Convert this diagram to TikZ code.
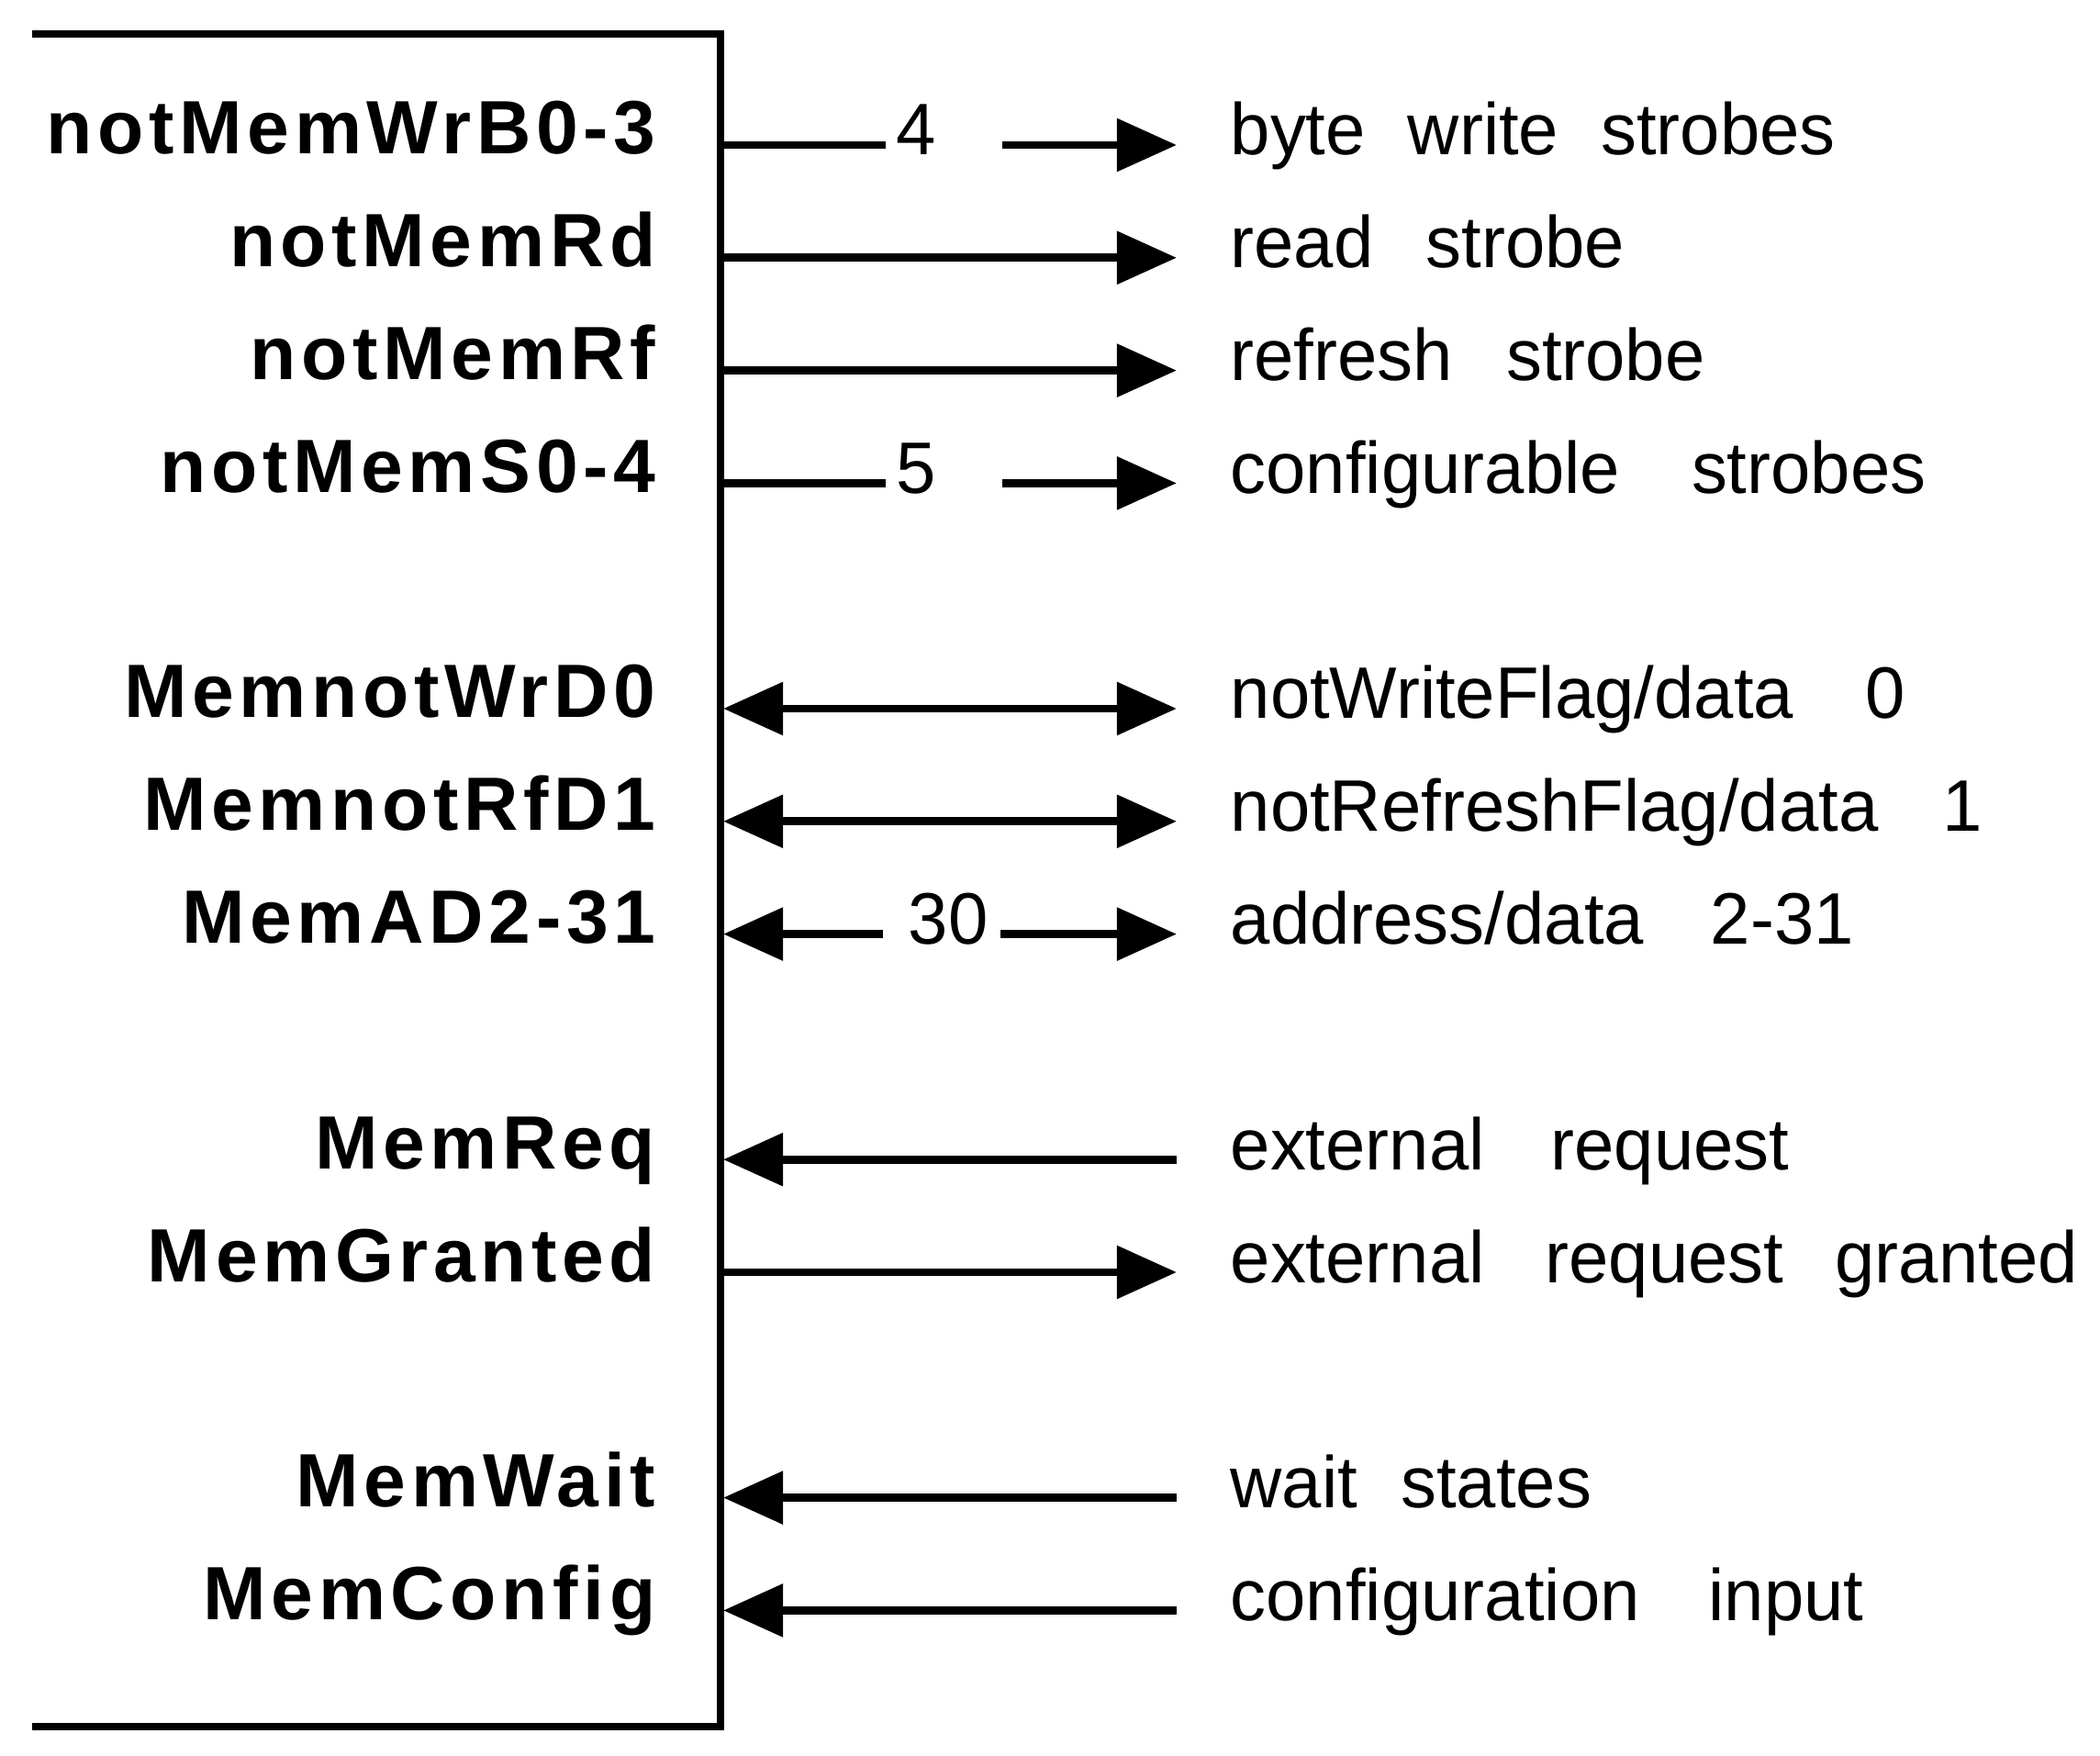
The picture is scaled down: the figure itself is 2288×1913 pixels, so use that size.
\documentclass[tikz,border=0pt]{standalone}
\usepackage{fontspec}
\usetikzlibrary{arrows.meta}
\newfontfamily\siglabfam{Liberation Sans}[LetterSpace=6.8]
\newfontfamily\desclabfam{Liberation Sans}[FakeStretch=0.98]
\begin{document}
\begin{tikzpicture}[x=0.01cm,y=-0.01cm,
  sig/.style={font={\siglabfam\bfseries\fontsize{23.4pt}{28pt}\selectfont}, anchor=base east, inner sep=0pt},
  desc/.style={font={\desclabfam\fontsize{22.6pt}{27pt}\selectfont}, anchor=base west, inner sep=0pt},
  num/.style={font={\desclabfam\fontsize{22.6pt}{27pt}\selectfont}, anchor=base, inner sep=0pt},
  boxline/.style={line width=2.3pt, line cap=butt, line join=miter},
  wire/.style={line width=2.55pt, line cap=butt},
  outarr/.style={wire, -{Triangle[length=6.5mm,width=5.6mm]}},
  inarr/.style={wire, -{Triangle[length=6.5mm,width=5.6mm]}},
  bidarr/.style={wire, {Triangle[length=6.5mm,width=5.6mm]}-{Triangle[length=6.5mm,width=5.6mm]}}
]
\useasboundingbox (0,0) rectangle (2288,1913);
% block outline (open on the left)
\coordinate (tl) at (35,37);
\coordinate (tr) at (785,37);
\coordinate (br) at (785,1881);
\coordinate (bl) at (35,1881);
\draw[boxline] (tl) -- (tr) -- (br) -- (bl);

% signal names
\node[sig] (s1)  at (715,168)    {notMemWrB0-3};
\node[sig] (s2)  at (715,290.8)  {notMemRd};
\node[sig] (s3)  at (715,413.6)  {notMemRf};
\node[sig] (s4)  at (715,536.4)  {notMemS0-4};
\node[sig] (s5)  at (715,782)    {MemnotWrD0};
\node[sig] (s6)  at (715,904.8)  {MemnotRfD1};
\node[sig] (s7)  at (715,1027.6) {MemAD2-31};
\node[sig] (s8)  at (715,1273.2) {MemReq};
\node[sig] (s9)  at (715,1396)   {MemGranted};
\node[sig] (s10) at (715,1641.6) {MemWait};
\node[sig] (s11) at (715,1764.4) {MemConfig};

% descriptions
\node[desc] (d1)  at (1340,169)    {byte\hspace{0.46cm}write\hspace{0.46cm}strobes};
\node[desc] (d2)  at (1340,291.8)  {read\hspace{0.57cm}strobe};
\node[desc] (d3)  at (1340,414.6)  {refresh\hspace{0.58cm}strobe};
\node[desc] (d4)  at (1340,537.4)  {configurable\hspace{0.78cm}strobes};
\node[desc] (d5)  at (1340,783)    {notWriteFlag/data\hspace{0.78cm}0};
\node[desc] (d6)  at (1340,905.8)  {notRefreshFlag/data\hspace{0.7cm}1};
\node[desc] (d7)  at (1340,1028.6) {address/data\hspace{0.73cm}2-31};
\node[desc] (d8)  at (1340,1274.2) {external\hspace{0.72cm}request};
\node[desc] (d9)  at (1340,1397)   {external\hspace{0.66cm}request\hspace{0.56cm}granted};
\node[desc] (d10) at (1340,1642.6) {wait\hspace{0.47cm}states};
\node[desc] (d11) at (1340,1765.4) {configuration\hspace{0.75cm}input};

% bus widths
\node[num] (n1) at (998,169)    {4};
\node[num] (n4) at (998,537.4)  {5};
\node[num] (n7) at (1033,1028.6) {30};

% connector end points
\coordinate (b1) at (785,158);    \coordinate (e1) at (1282,158);
\coordinate (b2) at (785,280.8);  \coordinate (e2) at (1282,280.8);
\coordinate (b3) at (785,403.6);  \coordinate (e3) at (1282,403.6);
\coordinate (b4) at (785,526.4);  \coordinate (e4) at (1282,526.4);
\coordinate (b5) at (788,772);    \coordinate (e5) at (1282,772);
\coordinate (b6) at (788,894.8);  \coordinate (e6) at (1282,894.8);
\coordinate (b7) at (788,1017.6); \coordinate (e7) at (1282,1017.6);
\coordinate (b8) at (788,1263.2); \coordinate (e8) at (1282,1263.2);
\coordinate (b9) at (785,1386);   \coordinate (e9) at (1282,1386);
\coordinate (b10) at (788,1631.6); \coordinate (e10) at (1282,1631.6);
\coordinate (b11) at (788,1754.4); \coordinate (e11) at (1282,1754.4);
% gaps around the bus-width numbers
\coordinate (g1a) at (965,158);    \coordinate (g1b) at (1092,158);
\coordinate (g4a) at (965,526.4);  \coordinate (g4b) at (1092,526.4);
\coordinate (g7a) at (962,1017.6); \coordinate (g7b) at (1090,1017.6);

% connectors
\draw[wire] (b1) -- (g1a);
\draw[outarr] (g1b) -- (e1);
\draw[outarr] (b2) -- (e2);
\draw[outarr] (b3) -- (e3);
\draw[wire] (b4) -- (g4a);
\draw[outarr] (g4b) -- (e4);
\draw[bidarr] (b5) -- (e5);
\draw[bidarr] (b6) -- (e6);
\draw[inarr] (g7a) -- (b7);
\draw[outarr] (g7b) -- (e7);
\draw[inarr] (e8) -- (b8);
\draw[outarr] (b9) -- (e9);
\draw[inarr] (e10) -- (b10);
\draw[inarr] (e11) -- (b11);
\end{tikzpicture}
\end{document}
